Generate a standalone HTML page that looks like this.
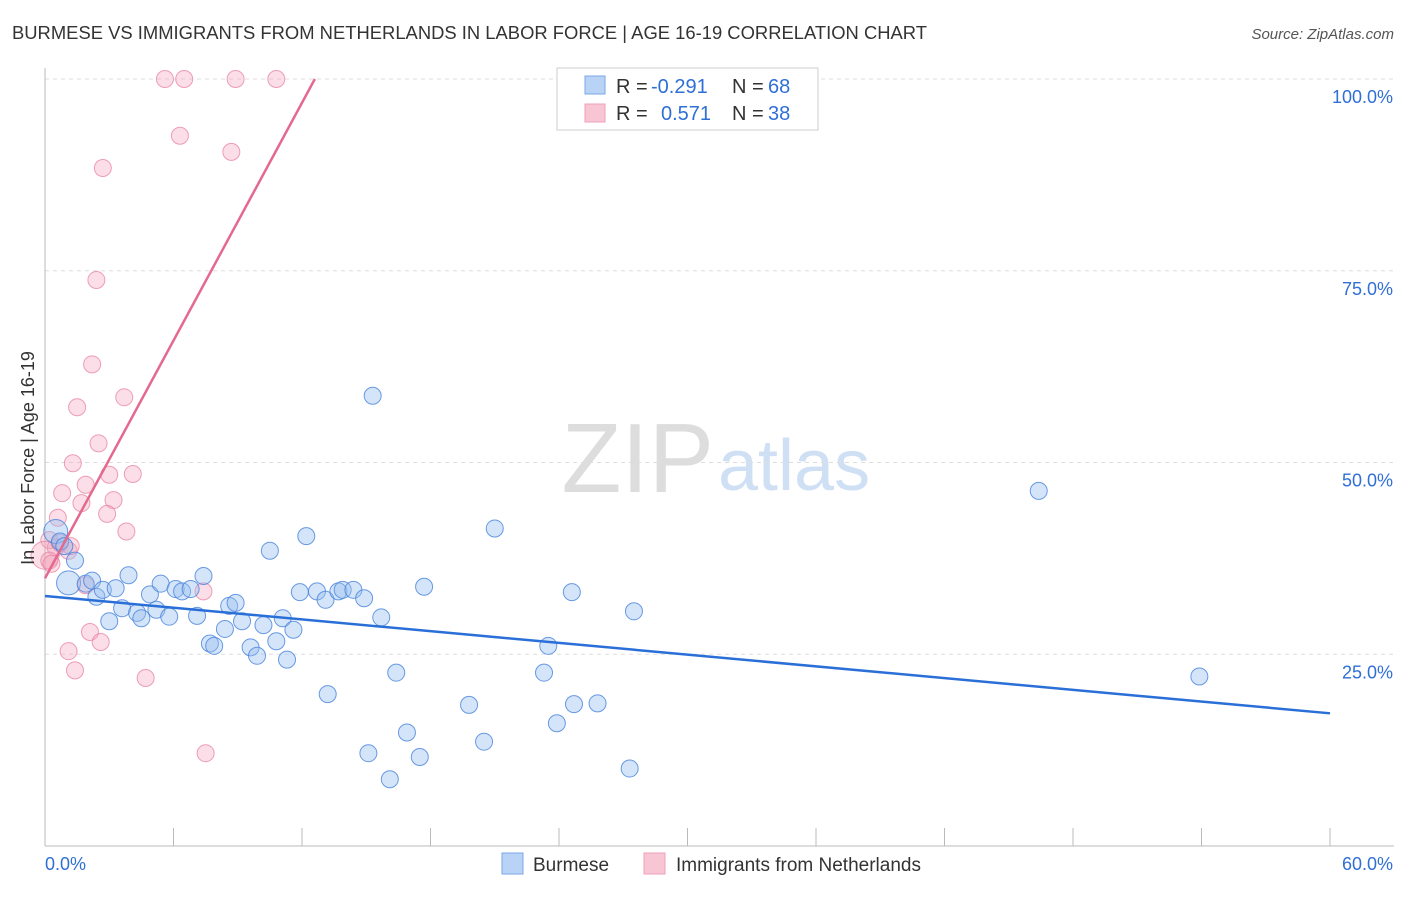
<!DOCTYPE html>
<html><head><meta charset="utf-8"><style>
body{margin:0;background:#fff;font-family:"Liberation Sans",sans-serif}
svg text{font-family:"Liberation Sans",sans-serif}
</style></head><body>
<svg id="c" width="1406" height="892">
<text x="12" y="39" font-size="18" fill="#333" textLength="915" lengthAdjust="spacingAndGlyphs">BURMESE VS IMMIGRANTS FROM NETHERLANDS IN LABOR FORCE | AGE 16-19 CORRELATION CHART</text>
<text x="1394" y="39" font-size="15" fill="#555" text-anchor="end" font-style="italic">Source: ZipAtlas.com</text>
<text x="714" y="492" font-size="98" fill="#ddd" text-anchor="end" font-family="Liberation Serif">ZIP</text>
<text x="718" y="490" font-size="72" fill="#cfe0f5">atlas</text>
<g id="grid"></g><g id="pts"></g><g id="lines"></g>
<text transform="translate(34,458) rotate(-90)" font-size="18" fill="#333" text-anchor="middle">In Labor Force | Age 16-19</text>
<g>
<rect x="557" y="68" width="261" height="62" fill="#fff" stroke="#ccc"/>
<rect x="585" y="76" width="20" height="18" fill="#b8d3f5" stroke="#7aa7e6"/>
<rect x="585" y="104" width="20" height="18" fill="#f8c5d4" stroke="#eea0b7"/>
<text x="616" y="93" font-size="20" fill="#333">R =</text>
<text x="651" y="93" font-size="20" fill="#2f6fd6">-0.291</text>
<text x="732" y="93" font-size="20" fill="#333">N =</text>
<text x="768" y="93" font-size="20" fill="#2f6fd6">68</text>
<text x="616" y="120" font-size="20" fill="#333">R =</text>
<text x="661" y="120" font-size="20" fill="#2f6fd6">0.571</text>
<text x="732" y="120" font-size="20" fill="#333">N =</text>
<text x="768" y="120" font-size="20" fill="#2f6fd6">38</text>
</g>
<g>
<rect x="502" y="853" width="21" height="21" fill="#b8d3f5" stroke="#7aa7e6"/>
<text x="533" y="871" font-size="19" fill="#333">Burmese</text>
<rect x="644" y="853" width="21" height="21" fill="#f8c5d4" stroke="#eea0b7"/>
<text x="676" y="871" font-size="19" fill="#333">Immigrants from Netherlands</text>
</g>
</svg>
<script>
const blueX=[0.5,0.7,0.9,1.4,1.1,1.9,2.2,2.4,2.7,3.0,3.3,3.6,3.9,4.3,4.5,4.9,5.2,5.4,5.8,6.1,6.4,6.8,7.1,7.4,7.7,7.9,8.4,8.6,8.9,9.2,9.6,9.9,10.2,10.5,10.8,11.1,11.3,11.6,11.9,12.2,12.7,13.1,13.2,13.7,13.9,14.4,14.9,15.1,15.3,15.7,16.1,16.4,16.9,17.5,17.7,19.8,20.5,21.0,23.3,23.5,23.9,24.6,24.7,25.8,27.3,27.5,46.4,53.9];
const blueY=[41.0,39.7,39.1,37.2,34.3,34.2,34.6,32.5,33.4,29.3,33.6,31.0,35.3,30.4,29.7,32.8,30.8,34.2,29.9,33.5,33.2,33.5,30.0,35.2,26.4,26.1,28.3,31.3,31.7,29.3,25.9,24.8,28.8,38.5,26.7,29.7,24.3,28.2,33.1,40.4,33.2,32.1,19.8,33.2,33.4,33.4,32.3,12.1,58.7,29.8,8.7,22.6,14.8,11.6,33.8,18.4,13.6,41.4,22.6,26.1,16.0,33.1,18.5,18.6,10.1,30.6,46.3,22.1];
const pinkX=[5.6,6.5,8.9,10.8,6.3,8.7,2.7,2.4,2.2,3.7,1.5,2.5,1.3,4.1,3.0,1.9,0.8,3.2,1.7,2.9,0.6,3.8,0.2,0.5,1.1,0.0,0.2,1.9,7.4,2.1,2.6,1.1,1.4,4.7,7.5,0.7,1.2,0.3];
const pinkY=[100,100,100,100,92.6,90.5,88.4,73.8,62.8,58.5,57.2,52.5,49.9,48.5,48.4,47.1,46.0,45.1,44.7,43.3,42.8,41.0,39.9,38.9,38.5,37.9,37.2,34.0,33.2,27.9,26.6,25.4,22.9,21.9,12.1,39.5,39.1,36.8];
const blueTrend=[32.6,17.3];
const pinkTrend=[[0,34.9],[12.6,100]];
const yTicks=[25,50,75,100];
const X=v=>45+v/60*1285, Y=v=>846-v/100*767;
const ns="http://www.w3.org/2000/svg";
function mk(t,a,p){const e=document.createElementNS(ns,t);for(const k in a)e.setAttribute(k,a[k]);p.appendChild(e);return e;}
const g=document.getElementById('grid');
yTicks.forEach(t=>{
 const l=mk('line',{x1:45,x2:1394,y1:Y(t),y2:Y(t),stroke:'#ddd','stroke-dasharray':'4,4'},g);
 
 
 const tx=mk('text',{x:1393,y:Y(t)+24,'font-size':18,fill:'#2f6fd6','text-anchor':'end'},g);tx.textContent=t.toFixed(1)+'%';
 
 
});
mk('line',{x1:45,x2:45,y1:68,y2:846,stroke:'#bbb'},g);
mk('line',{x1:45,x2:1394,y1:846,y2:846,stroke:'#bbb'},g);
for(let i=1;i<=10;i++){const xx=45+i*128.5;mk('line',{x1:xx,x2:xx,y1:828,y2:846,stroke:'#bbb'},g);}
let t0=mk('text',{x:45,y:870,'font-size':18,fill:'#2f6fd6'},g);t0.textContent='0.0%';


let t1=mk('text',{x:1393,y:870,'font-size':18,fill:'#2f6fd6','text-anchor':'end'},g);t1.textContent='60.0%';


const p=document.getElementById('pts');
pinkX.forEach((x,i)=>{const c=mk('circle',{cx:X(x),cy:Y(pinkY[i]),r:i==25?14:8.5,fill:'rgba(244,160,185,0.35)',stroke:'rgba(232,130,160,0.75)'},p);
 
 });
blueX.forEach((x,i)=>{const c=mk('circle',{cx:X(x),cy:Y(blueY[i]),r:(i==0||i==4)?12:8.5,fill:'rgba(150,190,240,0.4)',stroke:'rgba(70,130,220,0.8)'},p);
 
 });
const L=document.getElementById('lines');
const bl=mk('line',{x1:X(0),y1:Y(blueTrend[0]),x2:X(60),y2:Y(blueTrend[1]),stroke:'#2a6fd8','stroke-width':2.5},L);


const pl=mk('line',{x1:X(pinkTrend[0][0]),y1:Y(pinkTrend[0][1]),x2:X(pinkTrend[1][0]),y2:Y(pinkTrend[1][1]),stroke:'#e4698f','stroke-width':2.5},L);


</script>
</body></html>
